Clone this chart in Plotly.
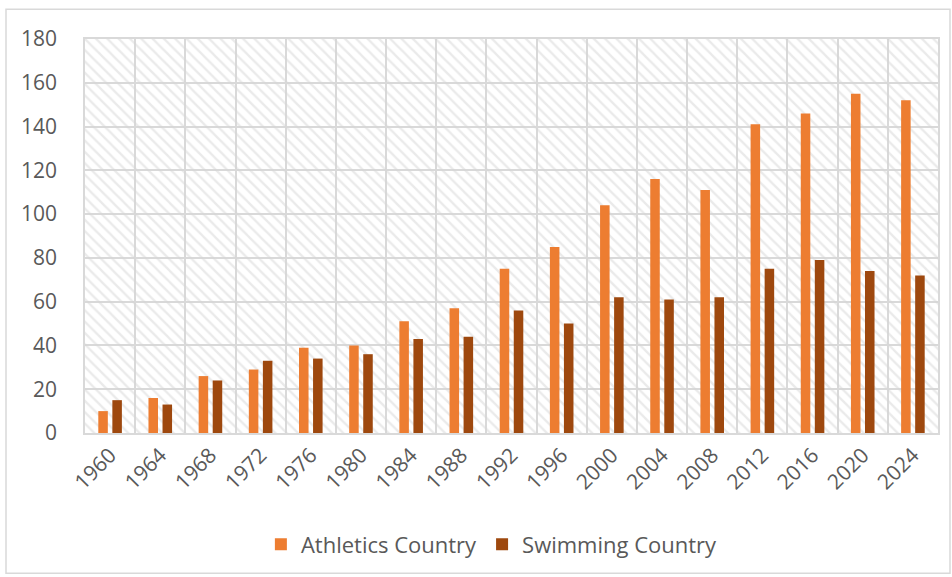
import plotly.graph_objects as go

years = ["1960", "1964", "1968", "1972", "1976", "1980", "1984", "1988", "1992",
         "1996", "2000", "2004", "2008", "2012", "2016", "2020", "2024"]
athletics = [10, 16, 26, 29, 39, 40, 51, 57, 75, 85, 104, 116, 111, 141, 146, 155, 152]
swimming = [15, 13, 24, 33, 34, 36, 43, 44, 56, 50, 62, 61, 62, 75, 79, 74, 72]
y_ticks = [0, 20, 40, 60, 80, 100, 120, 140, 160, 180]

W, H = 952, 577
ML, MR, MT, MB = 85, 14, 39, 142
FONT = "Open Sans"
TXT = "#595959"
GRID = "#d9d9d9"

xpos = list(range(len(years)))
bar_w = 0.19

fig = go.Figure()

# hatched plot background, drawn as one wide bar behind everything
fig.add_trace(go.Bar(
    x=[(len(years) - 1) / 2], y=[y_ticks[-1]], width=[len(years)],
    marker=dict(color="rgba(0,0,0,0)", line=dict(width=0),
                pattern=dict(shape="\\", fgcolor="#d6d6d6", size=8, solidity=0.3)),
    showlegend=False, hoverinfo="skip",
))

fig.add_trace(go.Bar(
    x=xpos, y=athletics, name="Athletics Country",
    width=bar_w, offset=-0.14 - bar_w / 2,
    marker=dict(color="#ED7D31", line=dict(width=0)),
))
fig.add_trace(go.Bar(
    x=xpos, y=swimming, name="Swimming Country",
    width=bar_w, offset=0.14 - bar_w / 2,
    marker=dict(color="#9E480E", line=dict(width=0)),
))

pw = W - ML - MR
ph = H - MT - MB
# light outer frame around the whole chart
fig.add_shape(type="rect", xref="paper", yref="paper",
              x0=(6 - ML) / pw, x1=(W - 2 - ML) / pw,
              y0=-(H - 1 - MT - ph) / ph, y1=1 + (MT - 9) / ph,
              line=dict(color=GRID, width=1.5), layer="below")

fig.update_layout(
    width=W, height=H,
    margin=dict(l=ML, r=MR, t=MT, b=MB),
    paper_bgcolor="white", plot_bgcolor="white",
    barmode="overlay",
    font=dict(family=FONT, size=21, color=TXT),
    legend=dict(orientation="h", x=0.477, xanchor="center", y=-0.283, yanchor="middle",
                font=dict(size=22, color=TXT), itemclick=False, tracegroupgap=0),
    showlegend=True,
)
fig.update_xaxes(
    range=[-0.5, len(years) - 0.5],
    tickvals=xpos, ticktext=years, tickangle=-45,
    showgrid=False, zeroline=False,
    minor=dict(tick0=0.5, dtick=1, showgrid=True, gridcolor=GRID, gridwidth=1.5),
    showline=True, linecolor=GRID, linewidth=1.5, mirror=True,
    ticks="", tickfont=dict(size=21, color=TXT),
)
fig.update_yaxes(
    range=[0, 180], tickvals=y_ticks,
    showgrid=True, gridcolor=GRID, gridwidth=1.5, zeroline=False,
    showline=True, linecolor=GRID, linewidth=1.5, mirror=True,
    ticks="", ticklabelstandoff=22, tickfont=dict(size=21, color=TXT),
)

fig.write_html("out.html")
